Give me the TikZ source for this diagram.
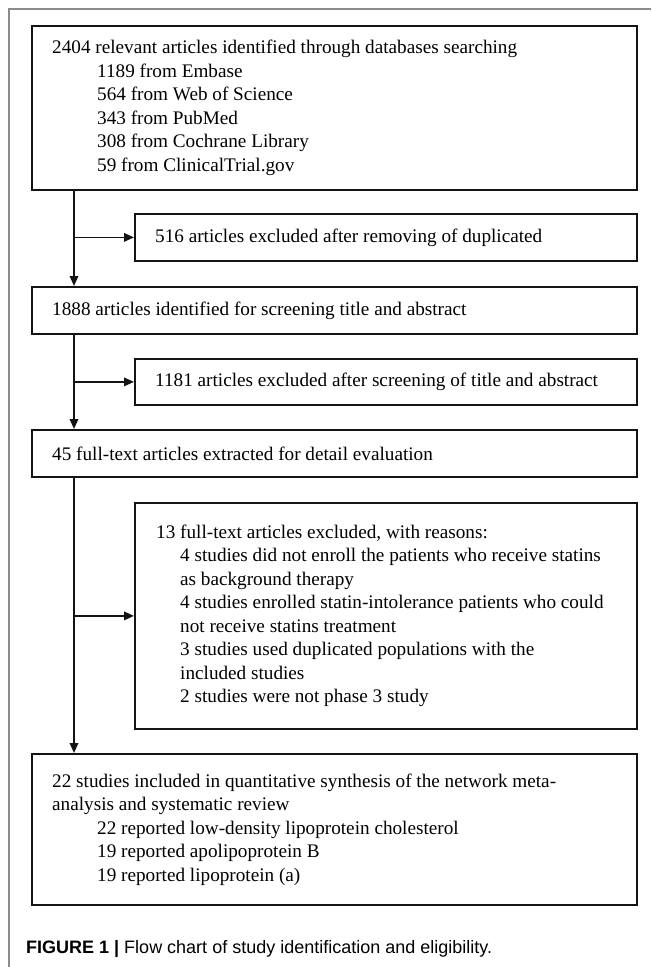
\documentclass[tikz,border=0pt]{standalone}
\usepackage{fontspec}
\setmainfont{Liberation Serif}
\setsansfont{Liberation Sans}
\usetikzlibrary{arrows.meta}
\definecolor{ink}{HTML}{141414}
\definecolor{framegray}{HTML}{8C8C8C}
\begin{document}
\begin{tikzpicture}[x=1pt,y=-1pt,
  box/.style={draw=ink, line width=1.8pt, rectangle, anchor=north west, inner sep=0pt},
  txt/.style={anchor=west, inner sep=0pt, align=left, text=black, font=\fontsize{19.2}{23.5}\selectfont},
  arr/.style={draw=ink, line width=1.8pt, -{Triangle[length=10pt,width=8.5pt]}}]
\useasboundingbox (0,0) rectangle (651,967);
\fill[white] (0,0) rectangle (651,967);
\draw[framegray, line width=1.2pt] (9,967) -- (9,9) -- (651,9);
\coordinate (tx) at (74,0);
% boxes
\node[box, minimum width=605pt, minimum height=164pt] (b1) at (31,25) {};
\node[box, minimum width=502pt, minimum height=47pt] (e1) at (134,213) {};
\node[box, minimum width=605pt, minimum height=47pt] (b2) at (31,286) {};
\node[box, minimum width=502pt, minimum height=46pt] (e2) at (134,358) {};
\node[box, minimum width=605pt, minimum height=47pt] (b3) at (31,429) {};
\node[box, minimum width=502pt, minimum height=226pt] (e3) at (134,502) {};
\node[box, minimum width=605pt, minimum height=151pt] (b4) at (31,753) {};
% texts
\node[txt, xshift=21pt] (t1) at (b1.west) {2404 relevant articles identified through databases searching\\
\hspace*{45pt}1189 from Embase\\
\hspace*{45pt}564 from Web of Science\\
\hspace*{45pt}343 from PubMed\\
\hspace*{45pt}308 from Cochrane Library\\
\hspace*{45pt}59 from ClinicalTrial.gov};
\node[txt, xshift=21pt] (te1) at (e1.west) {516 articles excluded after removing of duplicated};
\node[txt, xshift=21pt] (t2) at (b2.west) {1888 articles identified for screening title and abstract};
\node[txt, xshift=21pt] (te2) at (e2.west) {1181 articles excluded after screening of title and abstract};
\node[txt, xshift=21pt] (t3) at (b3.west) {45 full-text articles extracted for detail evaluation};
\node[txt, xshift=22pt] (te3) at (e3.west) {13 full-text articles excluded, with reasons:\\
\hspace*{24pt}4 studies did not enroll the patients who receive statins\\
\hspace*{24pt}as background therapy\\
\hspace*{24pt}4 studies enrolled statin-intolerance patients who could\\
\hspace*{24pt}not receive statins treatment\\
\hspace*{24pt}3 studies used duplicated populations with the\\
\hspace*{24pt}included studies\\
\hspace*{24pt}2 studies were not phase 3 study};
\node[txt, xshift=21pt] (t4) at (b4.west) {22 studies included in quantitative synthesis of the network meta-\\
analysis and systematic review\\
\hspace*{45pt}22 reported low-density lipoprotein cholesterol\\
\hspace*{45pt}19 reported apolipoprotein B\\
\hspace*{45pt}19 reported lipoprotein (a)};
% connectors
\draw[arr] (b1.south -| tx) -- (b2.north -| tx);
\draw[arr] (e1.west -| tx) -- (e1.west);
\draw[arr] (b2.south -| tx) -- (b3.north -| tx);
\draw[arr] (e2.west -| tx) -- (e2.west);
\draw[arr] (b3.south -| tx) -- (b4.north -| tx);
\draw[arr] (e3.west -| tx) -- (e3.west);
% caption
\node[anchor=west, inner sep=0pt, font=\sffamily\fontsize{18}{21}\selectfont] (cap) at (26,949) {\textbf{FIGURE 1 |} Flow chart of study identification and eligibility.};
\end{tikzpicture}
\end{document}
